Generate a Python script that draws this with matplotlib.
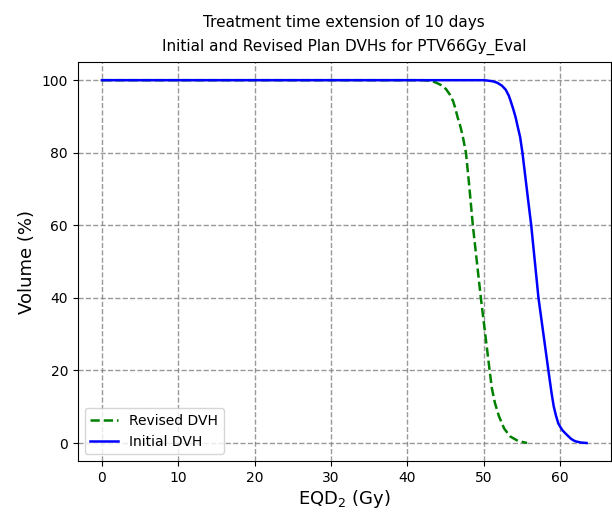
import matplotlib
matplotlib.use("Agg")
import matplotlib.pyplot as plt

# EQD2 dose (Gy) and volume (%)
revised_dose = [0, 42.0, 42.7, 43.3, 43.8, 44.5, 45.1, 45.6, 46.0, 46.3, 46.6, 47.0,
                47.3, 47.7, 48.1, 48.6, 49.65, 50.8, 51.1, 51.5, 52.0, 52.7,
                53.5, 54.5, 55.7]
revised_vol = [100, 100, 99.9, 99.7, 99.3, 98.6, 97.5, 96.0, 94.3, 92.3, 89.8, 87.0,
               84.3, 80, 71.5, 60, 40, 20, 15, 11, 7.5, 4.0,
               1.8, 0.6, 0]

initial_dose = [0, 50.0, 50.5, 51.2, 51.8, 52.4, 52.9, 53.3, 53.55, 53.9, 54.2, 54.5,
                54.8, 55.1, 55.5, 55.9, 56.25, 57.2, 58.5, 58.9, 59.2, 59.5,
                59.8, 60.3, 60.9, 61.5, 62.0, 62.7, 63.5]
initial_vol = [100, 100, 99.9, 99.7, 99.3, 98.5, 97.4, 95.8, 94.3, 92.0, 89.8, 87.0,
               84.3, 80, 73, 66, 60, 40, 20, 14, 10.1, 7.5,
               5.4, 3.6, 2.3, 1.1, 0.5, 0.15, 0]

title_lines = ["Treatment time extension of 10 days",
               "Initial and Revised Plan DVHs for PTV66Gy_Eval"]

fig = plt.figure(figsize=(6.12, 5.17), dpi=100)
ax = fig.add_axes([0.127, 0.108, 0.871, 0.772])

ax.plot(revised_dose, revised_vol, color='green', linestyle='--', linewidth=1.8, label='Revised DVH')
ax.plot(initial_dose, initial_vol, color='blue', linestyle='-', linewidth=1.8, label='Initial DVH')

ax.set_title("\n".join(title_lines), fontsize=11, pad=8, linespacing=1.75)
ax.set_xlabel(r'EQD$_2$ (Gy)', fontsize=13, labelpad=2)
ax.set_ylabel('Volume (%)', fontsize=13)
ax.tick_params(labelsize=10)
ax.grid(True, color='gray', alpha=0.8, linestyle='--', linewidth=1)
ax.legend(loc='lower left', fontsize=10)

fig.savefig('out.png', dpi=100)
